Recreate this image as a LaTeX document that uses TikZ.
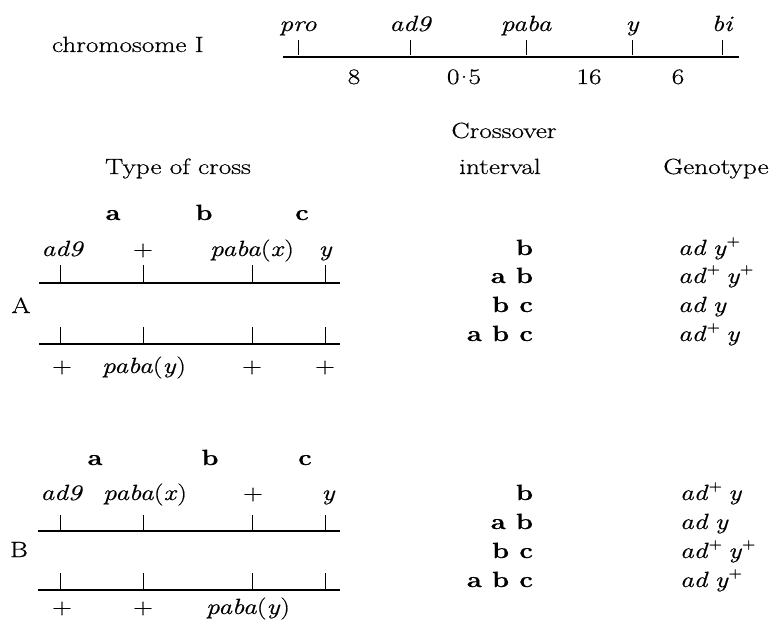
\documentclass[tikz,border=0pt]{standalone}
\usepackage{fontspec}
\setmainfont{Latin Modern Roman}[FakeStretch=1.24, FakeBold=0.6]
\newcommand{\gsym}[1]{\textit{#1}}
\newcommand{\wt}{\raisebox{0.42em}{\fontsize{15}{15}\selectfont +}}
\newcommand{\gsp}{\hspace{0.28em}}
\newcommand{\mdot}{\kern0.05em\raisebox{0.28em}{.}\kern0.05em}
\begin{document}
\begin{tikzpicture}[x=1pt,y=-1pt,
  every node/.style={inner sep=0pt, outer sep=0pt, font=\fontsize{22}{26}\selectfont},
  lab/.style={anchor=base},
  gene/.style={anchor=base, font=\fontsize{22}{26}\selectfont\itshape},
  ivl/.style={anchor=base east, font=\fontsize{22}{26}\selectfont\bfseries},
  geno/.style={anchor=base west},
  letter/.style={anchor=base, font=\fontsize{22}{26}\selectfont\bfseries},
  chromline/.style={line width=1.4pt},
  tickmark/.style={line width=0.9pt},
]
\useasboundingbox (0,0) rectangle (774,621);

% ---------- chromosome I map ----------
\node[anchor=base west] (chrI) at (52,52) {chromosome I};
\coordinate (mapL) at (283,57);
\coordinate (mapR) at (739,57);
\draw[chromline] (mapL) -- (mapR);
\foreach \g/\x in {pro/298, ad9/410, paba/526, y/632, bi/722} {
  \coordinate (mt-\g) at (\x,55);
  \draw[tickmark] (mt-\g) -- ++(0,-15);
  \node[gene] (ml-\g) at (\x,31) {\g};
}
\node[lab] (dist1) at (354,84) {8};
\node[lab] (dist2) at (464,84) {0\mdot5};
\node[lab] (dist3) at (589,84) {16};
\node[lab] (dist4) at (678,84) {6};

% ---------- column headings ----------
\node[lab] (hcross) at (178,174) {Type of cross};
\node[lab] (hco1) at (504,138) {Crossover};
\node[lab] (hco2) at (500,174) {interval};
\node[lab] (hgen) at (716,174) {Genotype};

% ---------- cross A ----------
\node[letter] (Aa) at (113,220) {a};
\node[letter] (Ab) at (204,220) {b};
\node[letter] (Ac) at (302,220) {c};

\node[gene] (Au1) at (62,256) {ad9};
\node[lab]  (Au2) at (143,256) {+};
\node[lab]  (Au3) at (252,256) {\gsym{paba}(\gsym{x})};
\node[gene] (Au4) at (325,256) {y};

\coordinate (AuL) at (39,283);
\coordinate (AuR) at (340,283);
\draw[chromline] (AuL) -- (AuR);
\coordinate (AlL) at (39,344);
\coordinate (AlR) at (340,344);
\draw[chromline] (AlL) -- (AlR);
\foreach \x [count=\i] in {60,143,252,325} {
  \coordinate (Aut\i) at (\x,282);
  \draw[tickmark] (Aut\i) -- ++(0,-17);
  \coordinate (Alt\i) at (\x,343);
  \draw[tickmark] (Alt\i) -- ++(0,-16);
}
\node[anchor=base] (Alab) at (21,313) {A};

\node[lab] (Al1) at (62,373) {+};
\node[lab] (Al2) at (144,373) {\gsym{paba}(\gsym{y})};
\node[lab] (Al3) at (252,373) {+};
\node[lab] (Al4) at (325,373) {+};

\node[ivl]  (Ai1) at (533,255) {b};
\node[ivl]  (Ai2) at (533,283) {a b};
\node[ivl]  (Ai3) at (533,312) {b c};
\node[ivl]  (Ai4) at (533,341) {a b c};
\node[geno] (Ag1) at (678,255) {\gsym{ad}\gsp\gsym{y}\wt};
\node[geno] (Ag2) at (678,283) {\gsym{ad}\wt\gsp\gsym{y}\wt};
\node[geno] (Ag3) at (678,312) {\gsym{ad}\gsp\gsym{y}};
\node[geno] (Ag4) at (678,341) {\gsym{ad}\wt\gsp\gsym{y}};

% ---------- cross B ----------
\node[letter] (Ba) at (95,465) {a};
\node[letter] (Bb) at (210,465) {b};
\node[letter] (Bc) at (305,465) {c};

\node[gene] (Bu1) at (61,500) {ad9};
\node[lab]  (Bu2) at (145,500) {\gsym{paba}(\gsym{x})};
\node[lab]  (Bu3) at (253,500) {+};
\node[gene] (Bu4) at (328,500) {y};

\coordinate (BuL) at (38,531);
\coordinate (BuR) at (340,531);
\draw[chromline] (BuL) -- (BuR);
\coordinate (BlL) at (38,590);
\coordinate (BlR) at (340,590);
\draw[chromline] (BlL) -- (BlR);
\foreach \x [count=\i] in {60,143,252,325} {
  \coordinate (But\i) at (\x,530);
  \draw[tickmark] (But\i) -- ++(0,-15);
  \coordinate (Blt\i) at (\x,589);
  \draw[tickmark] (Blt\i) -- ++(0,-16);
}
\node[anchor=base] (Blab) at (19,557) {B};

\node[lab] (Bl1) at (62,614) {+};
\node[lab] (Bl2) at (143,614) {+};
\node[lab] (Bl3) at (248,614) {\gsym{paba}(\gsym{y})};

\node[ivl]  (Bi1) at (533,500) {b};
\node[ivl]  (Bi2) at (533,529) {a b};
\node[ivl]  (Bi3) at (533,558) {b c};
\node[ivl]  (Bi4) at (533,587) {a b c};
\node[geno] (Bg1) at (680,500) {\gsym{ad}\wt\gsp\gsym{y}};
\node[geno] (Bg2) at (680,529) {\gsym{ad}\gsp\gsym{y}};
\node[geno] (Bg3) at (680,558) {\gsym{ad}\wt\gsp\gsym{y}\wt};
\node[geno] (Bg4) at (680,587) {\gsym{ad}\gsp\gsym{y}\wt};
\end{tikzpicture}
\end{document}
